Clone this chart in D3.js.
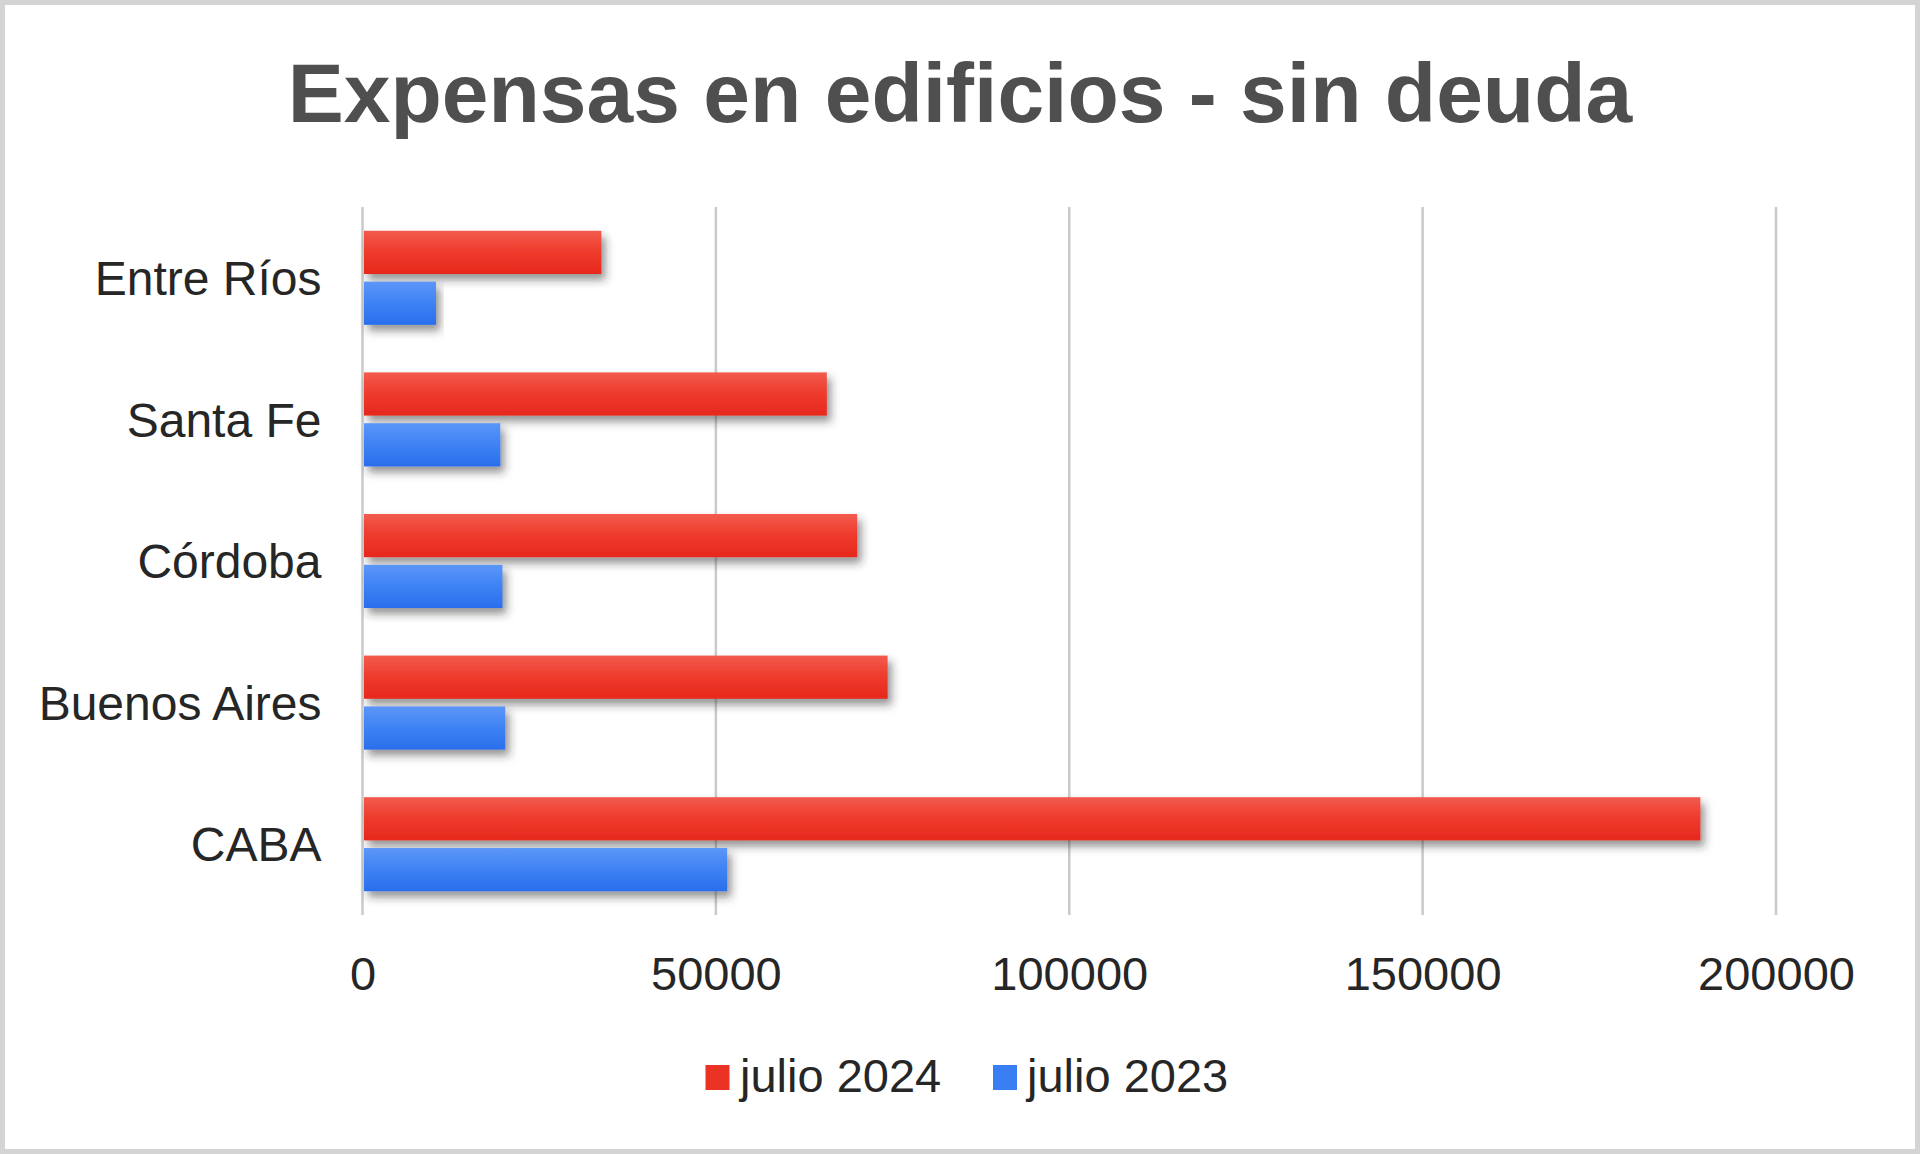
<!DOCTYPE html>
<html>
<head>
<meta charset="utf-8">
<script src="https://cdn.jsdelivr.net/npm/d3@7"></script>
<style>
	html, body { margin: 0; padding: 0; background: #fff; }
	svg { display: block; font-family: 'Liberation Sans', Arial, sans-serif; }
</style>
</head>
<body>
<div id="chart"></div>
<script>
// Data
const categories = ['Entre Ríos', 'Santa Fe', 'Córdoba', 'Buenos Aires', 'CABA'];
const seriesNames = ['julio 2024', 'julio 2023'];
const julio2024 = [33800, 65700, 70000, 74300, 189300];
const julio2023 = [10400, 19500, 19800, 20200, 51600];
const xTicks = [0, 50000, 100000, 150000, 200000];

function createChart() {
	d3.select('#chart').html('');

	const width = 1920;
	const height = 1154;
	const plot = { left: 362.5, right: 1776, top: 207, bottom: 915 };

	const rows = categories.map((c, i) => ({
		name: c,
		values: [
			{ key: seriesNames[0], value: julio2024[i] },
			{ key: seriesNames[1], value: julio2023[i] }
		]
	}));

	const x = d3.scaleLinear().domain([0, 200000]).range([plot.left, plot.right]);

	// Excel-like category bands (half gap at both ends)
	const y = d3
		.scaleBand()
		.domain(categories)
		.range([plot.top, plot.bottom])
		.paddingInner(0.336)
		.paddingOuter(0.168);

	const ySub = d3
		.scaleBand()
		.domain(seriesNames)
		.range([0, y.bandwidth()])
		.paddingInner(0.15);

	const color = d3.scaleOrdinal().domain(seriesNames).range(['url(#gradRed)', 'url(#gradBlue)']);
	const legendColor = d3.scaleOrdinal().domain(seriesNames).range(['#ea3324', '#3a7ef3']);

	const svg = d3
		.select('#chart')
		.append('svg')
		.attr('width', width)
		.attr('height', height);

	const defs = svg.append('defs');

	// Bar gradients (lighter at the top)
	const grads = [
		{ id: 'gradRed', stops: ['#f25b4d', '#ee3a2c', '#e6281c'] },
		{ id: 'gradBlue', stops: ['#5c96f8', '#3e82f4', '#2a6eec'] }
	];
	grads.forEach((g) => {
		const lg = defs.append('linearGradient')
			.attr('id', g.id)
			.attr('x1', 0).attr('y1', 0).attr('x2', 0).attr('y2', 1);
		g.stops.forEach((s, i) => {
			lg.append('stop').attr('offset', i / (g.stops.length - 1)).attr('stop-color', s);
		});
	});

	defs.append('filter')
		.attr('id', 'shadow')
		.attr('x', '-5%').attr('y', '-30%').attr('width', '115%').attr('height', '180%')
		.append('feDropShadow')
		.attr('dx', 4)
		.attr('dy', 6)
		.attr('stdDeviation', 4)
		.attr('flood-color', '#2a2a2a')
		.attr('flood-opacity', 0.5);

	// Background and border
	svg.append('rect')
		.attr('x', 2.5).attr('y', 2.5)
		.attr('width', width - 5).attr('height', height - 5)
		.attr('fill', '#fff')
		.attr('stroke', '#d4d4d4')
		.attr('stroke-width', 5);

	// Title
	svg.append('text')
		.attr('x', 960)
		.attr('y', 122)
		.attr('text-anchor', 'middle')
		.style('font-size', '84px')
		.style('font-weight', 'bold')
		.style('fill', '#4f4f4f')
		.text('Expensas en edificios - sin deuda');

	// Vertical gridlines
	svg.append('g')
		.selectAll('line')
		.data(xTicks)
		.enter()
		.append('line')
		.attr('x1', (d) => x(d))
		.attr('x2', (d) => x(d))
		.attr('y1', plot.top)
		.attr('y2', plot.bottom)
		.attr('stroke', '#cacaca')
		.attr('stroke-width', 2.5);

	// X tick labels
	const xAxis = d3.axisBottom(x).tickValues(xTicks).tickSize(0).tickPadding(0).tickFormat(d3.format('d'));
	const gx = svg.append('g')
		.attr('transform', `translate(0,${plot.bottom})`)
		.call(xAxis);
	gx.select('.domain').remove();
	gx.selectAll('text')
		.attr('dy', null)
		.attr('y', 75)
		.style('font-size', '47px')
		.style('font-family', "'Liberation Sans', Arial, sans-serif")
		.style('fill', '#262626');

	// Category labels
	const yAxis = d3.axisLeft(y).tickSize(0).tickPadding(41);
	const gy = svg.append('g')
		.attr('transform', `translate(${plot.left},0)`)
		.call(yAxis);
	gy.select('.domain').remove();
	gy.selectAll('text')
		.attr('dy', '0.36em')
		.style('font-size', '48px')
		.style('font-family', "'Liberation Sans', Arial, sans-serif")
		.style('fill', '#262626');

	// Bars
	const group = svg.append('g')
		.selectAll('g')
		.data(rows)
		.enter()
		.append('g')
		.attr('transform', (d) => `translate(0,${y(d.name)})`);

	group.selectAll('rect')
		.data((d) => d.values)
		.enter()
		.append('rect')
		.attr('x', x(0) + 1.5)
		.attr('y', (d) => ySub(d.key))
		.attr('width', (d) => x(d.value) - x(0) - 1.5)
		.attr('height', ySub.bandwidth())
		.attr('fill', (d) => color(d.key))
		.attr('filter', 'url(#shadow)');

	// Legend
	const legendItems = [
		{ key: seriesNames[0], sx: 705.5, tx: 740 },
		{ key: seriesNames[1], sx: 993, tx: 1027 }
	];
	const legend = svg.append('g')
		.selectAll('g')
		.data(legendItems)
		.enter()
		.append('g');

	legend.append('rect')
		.attr('x', (d) => d.sx)
		.attr('y', 1065)
		.attr('width', 24)
		.attr('height', 25)
		.attr('fill', (d) => legendColor(d.key));

	legend.append('text')
		.attr('x', (d) => d.tx)
		.attr('y', 1092)
		.style('font-size', '47px')
		.style('fill', '#262626')
		.text((d) => d.key);
}

createChart();
</script>
</body>
</html>
